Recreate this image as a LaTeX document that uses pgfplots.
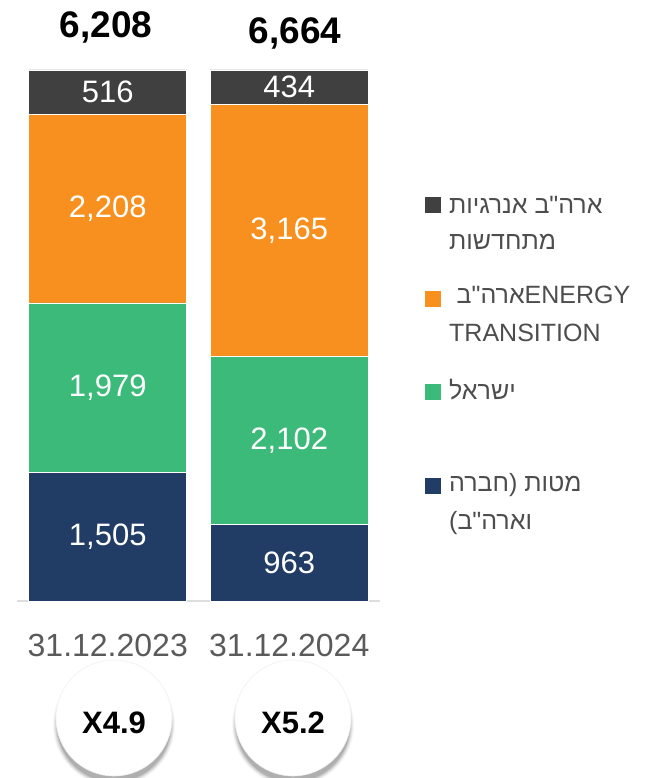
\documentclass[border=0pt]{standalone}
\usepackage{pgfplots}
\pgfplotsset{compat=1.18}
\usepackage{pgfplotstable}
\usepackage{fontspec}
\setmainfont{Liberation Sans}
\newfontfamily\heb[Script=Hebrew]{Liberation Sans}
\TeXXeTstate=1
\definecolor{cgray}{RGB}{64,64,64}
\definecolor{corange}{RGB}{247,144,30}
\definecolor{cgreen}{RGB}{60,186,122}
\definecolor{cnavy}{RGB}{33,61,102}
\definecolor{ctext}{RGB}{77,77,77}
\definecolor{clab}{RGB}{90,90,90}
\pgfplotstableread{
x v tot
0 1505 6208
1 963 6664
}\matot
\pgfplotstableread{
x v tot
0 1979 6208
1 2102 6664
}\israel
\pgfplotstableread{
x v tot
0 2208 6208
1 3165 6664
}\energy
\pgfplotstableread{
x v tot
0 516 6208
1 434 6664
}\renew
\tikzset{seglab/.style={text=white, font=\fontsize{31}{36}\selectfont}}
\begin{document}
\begin{tikzpicture}[x=1pt,y=1pt]
\useasboundingbox (0,0) rectangle (652,778);
\begin{axis}[
  at={(17pt,177pt)}, anchor=south west,
  scale only axis, width=363pt, height=531pt,
  xmin=-0.5, xmax=1.5, ymin=0, ymax=100,
  ybar stacked, bar width=158pt,
  axis y line=none, axis x line*=bottom,
  x axis line style={draw=black!13, line width=1.2pt},
  xtick={0,1}, xticklabels={31.12.2023,31.12.2024},
  major tick length=0pt,
  xticklabel style={font=\fontsize{32}{38}\selectfont, text=clab, yshift=-30pt},
  clip=false,
]
\addplot[fill=cnavy, draw=white, line width=0.6pt] table[x=x, y expr=\thisrow{v}/\thisrow{tot}*100]{\matot};
\addplot[fill=cgreen, draw=white, line width=0.6pt] table[x=x, y expr=\thisrow{v}/\thisrow{tot}*100]{\israel};
\addplot[fill=corange, draw=white, line width=0.6pt] table[x=x, y expr=\thisrow{v}/\thisrow{tot}*100]{\energy};
\addplot[fill=cgray, draw=white, line width=0.6pt] table[x=x, y expr=\thisrow{v}/\thisrow{tot}*100]{\renew};
\coordinate (a1) at (axis cs:0,12.12);
\coordinate (a2) at (axis cs:0,40.18);
\coordinate (a3) at (axis cs:0,73.90);
\coordinate (a4) at (axis cs:0,95.84);
\coordinate (b1) at (axis cs:1,7.23);
\coordinate (b2) at (axis cs:1,30.22);
\coordinate (b3) at (axis cs:1,69.74);
\coordinate (b4) at (axis cs:1,96.74);
\end{axis}
\node[seglab] at (a1) {1,505};
\node[seglab] at (a2) {1,979};
\node[seglab] at (a3) {2,208};
\node[seglab] at (a4) {516};
\node[seglab] at (b1) {963};
\node[seglab] at (b2) {2,102};
\node[seglab] at (b3) {3,165};
\node[seglab] at (b4) {434};
% totals
\node[font=\fontsize{37}{42}\selectfont\bfseries] at (106,751) {6,208};
\node[font=\fontsize{37}{42}\selectfont\bfseries] at (295,745) {6,664};
% circles with soft shadow
\foreach \cx/\lab in {114/X4.9, 293/X5.2}{
  \foreach \r/\op in {61/0.03,60/0.05,59/0.07,58/0.09,57/0.11}{
    \fill[black, opacity=\op] (\cx,53) circle (\r);
  }
  \fill[white] (\cx,60) circle (58);
  \draw[black!6, line width=0.6pt] (\cx,60) circle (58);
  \node[font=\fontsize{31}{36}\selectfont\bfseries] at (\cx,55) {\lab};
}
% legend
\fill[cgray] (425,565) rectangle (441,581);
\fill[corange] (425,471) rectangle (441,487);
\fill[cgreen] (425,378) rectangle (441,394);
\fill[cnavy] (425,284) rectangle (441,300);
\node[anchor=west, text=ctext, font=\fontsize{25}{30}\selectfont\heb, inner sep=0pt] at (449,573) {\beginR ארה"ב אנרגיות\endR};
\node[anchor=west, text=ctext, font=\fontsize{25}{30}\selectfont\heb, inner sep=0pt] at (449,536) {\beginR מתחדשות\endR};
\node[anchor=west, text=ctext, font=\fontsize{25}{30}\selectfont\heb, inner sep=0pt] at (449,483) {\hspace{0.3em}\beginR ארה"ב\endR ENERGY};
\node[anchor=west, text=ctext, font=\fontsize{25}{30}\selectfont\heb, inner sep=0pt] at (449,445) {TRANSITION};
\node[anchor=west, text=ctext, font=\fontsize{25}{30}\selectfont\heb, inner sep=0pt] at (449,388) {\beginR ישראל\endR};
\node[anchor=west, text=ctext, font=\fontsize{25}{30}\selectfont\heb, inner sep=0pt] at (449,293) {\beginR מטות (חברה\endR};
\node[anchor=west, text=ctext, font=\fontsize{25}{30}\selectfont\heb, inner sep=0pt] at (449,255) {\beginR וארה"ב)\endR};
\end{tikzpicture}
\end{document}
